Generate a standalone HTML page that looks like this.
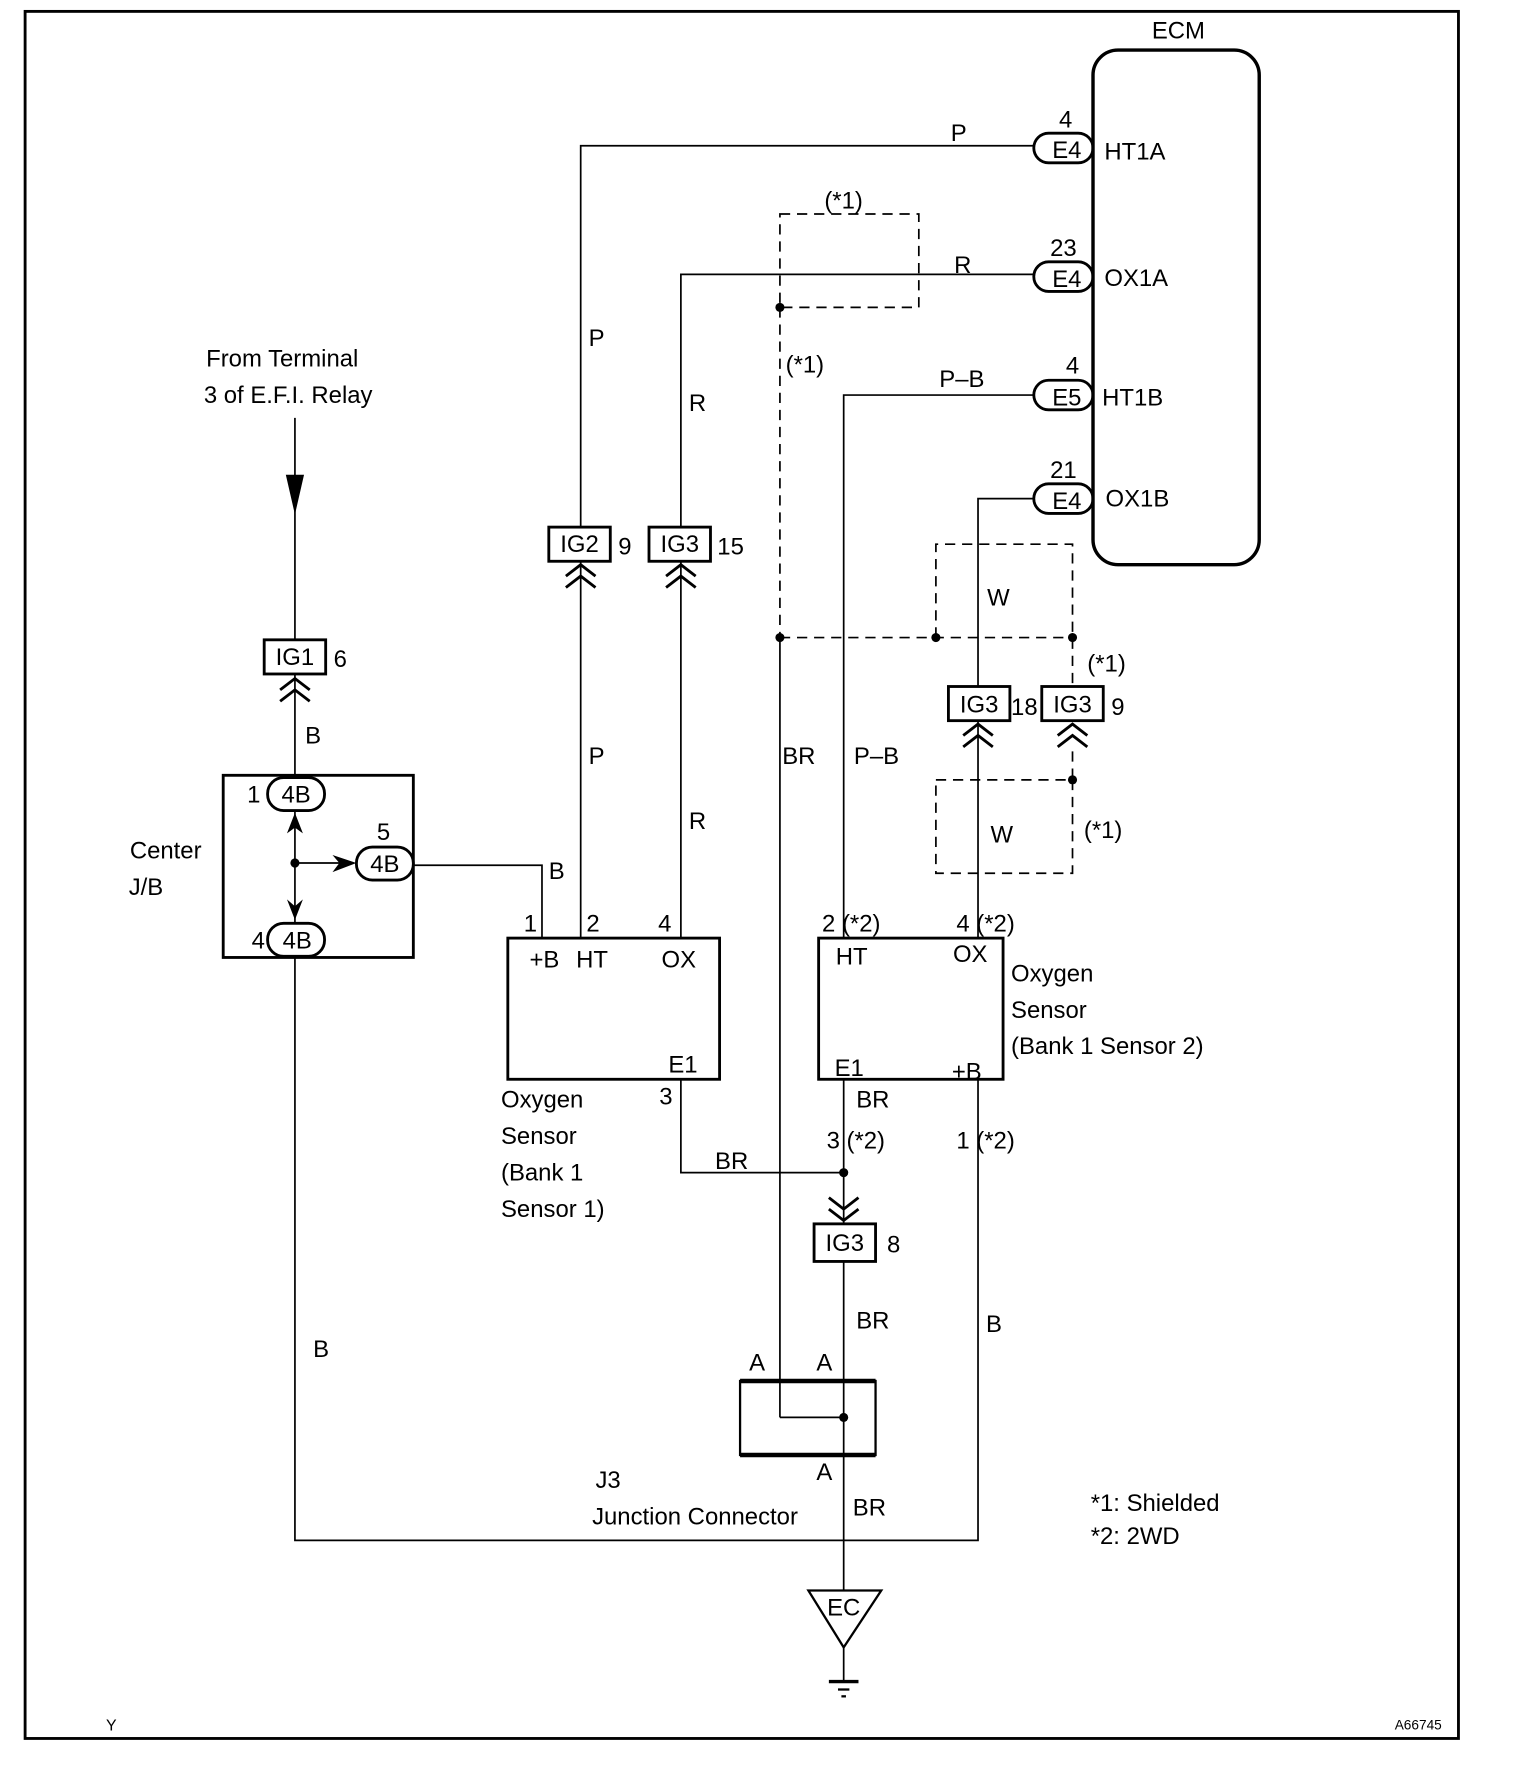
<!DOCTYPE html>
<html><head><meta charset="utf-8"><style>
html,body{margin:0;padding:0;background:#fff;width:1520px;height:1784px;overflow:hidden}
svg{display:block}
text{font-family:"Liberation Sans",Arial,sans-serif;font-size:21px;fill:#000}
</style></head><body>
<svg width="1520" height="1784" viewBox="0 0 1335 1567" xmlns="http://www.w3.org/2000/svg">
<defs>
<g id="chevU"><polyline points="-13,10 0,0 13,10" fill="none" stroke="#000" stroke-width="2.5"/><polyline points="-13,20 0,10 13,20" fill="none" stroke="#000" stroke-width="2.5"/></g>
</defs>
<g fill="none" stroke="#000">
<rect x="22" y="10" width="1259" height="1517" stroke-width="2.5"/>
<rect x="960" y="44" width="146" height="452" rx="22" stroke-width="3"/>
<rect x="908" y="117" width="52" height="26" rx="13" stroke-width="2.5"/>
<rect x="908" y="230" width="52" height="26" rx="13" stroke-width="2.5"/>
<rect x="908" y="334" width="52" height="26" rx="13" stroke-width="2.5"/>
<rect x="908" y="425" width="52" height="26" rx="13" stroke-width="2.5"/>
<g stroke-width="1.5">
<polyline points="908,128 510,128 510,463"/>
<line x1="510" y1="493" x2="510" y2="824"/>
<polyline points="908,241 598,241 598,463"/>
<line x1="598" y1="493" x2="598" y2="824"/>
<polyline points="908,347 741,347 741,824"/>
<polyline points="908,438 859,438 859,603"/>
<line x1="859" y1="633" x2="859" y2="824"/>
<line x1="685" y1="560" x2="685" y2="1245"/>
<line x1="685" y1="1245" x2="741" y2="1245"/>
<polyline points="741,948 741,1030"/>
<polyline points="598,948 598,1030 741,1030 741,1075"/>
<line x1="741" y1="1108" x2="741" y2="1397"/>
<line x1="741" y1="1447" x2="741" y2="1476"/>
<polyline points="859,948 859,1353 259,1353 259,841"/>
<line x1="259" y1="367" x2="259" y2="562"/>
<line x1="259" y1="592" x2="259" y2="681"/>
<line x1="259" y1="712" x2="259" y2="812"/>
<line x1="259" y1="758" x2="300" y2="758"/>
<polyline points="362,760 476,760 476,824"/>
</g>
<g stroke-width="1.5" stroke-dasharray="9,6">
<rect x="685" y="188" width="122" height="82"/>
<line x1="685" y1="270" x2="685" y2="560"/>
<line x1="685" y1="560" x2="942" y2="560"/>
<polyline points="822,560 822,478 942,478 942,603"/>
<line x1="942" y1="660" x2="942" y2="685"/>
<rect x="822" y="685" width="120" height="82"/>
</g>
<g stroke-width="2.5">
<rect x="482" y="463" width="54" height="30"/>
<rect x="570" y="463" width="54" height="30"/>
<rect x="232" y="562" width="54" height="30"/>
<rect x="833" y="603" width="54" height="30"/>
<rect x="915" y="603" width="54" height="30"/>
<rect x="715" y="1075" width="54" height="33"/>
<rect x="196" y="681" width="167" height="160"/>
<rect x="235" y="683" width="50" height="29" rx="14" fill="#fff"/>
<rect x="313" y="744" width="50" height="29" rx="14" fill="#fff"/>
<rect x="235" y="811" width="50" height="29" rx="14" fill="#fff"/>
<rect x="446" y="824" width="186" height="124"/>
<rect x="719" y="824" width="162" height="124"/>
<rect x="650" y="1213" width="119" height="65" stroke-width="2"/>
<line x1="650" y1="1213" x2="769" y2="1213" stroke-width="4"/>
<line x1="650" y1="1278" x2="769" y2="1278" stroke-width="4"/>
<polygon points="710,1397 774,1397 741,1447" stroke-width="2"/>
</g>
<line x1="728" y1="1477" x2="754" y2="1477" stroke-width="3"/>
<line x1="736" y1="1484" x2="746" y2="1484" stroke-width="2"/>
<line x1="739" y1="1490" x2="743" y2="1490" stroke-width="2"/>
</g>
<use href="#chevU" x="510" y="496"/>
<use href="#chevU" x="598" y="496"/>
<use href="#chevU" x="259" y="596"/>
<use href="#chevU" x="859" y="636"/>
<use href="#chevU" x="942" y="636"/>
<use href="#chevU" transform="translate(741,1072) scale(1,-1)"/>
<polygon points="251,417 267,417 259,452" fill="#000"/>
<polygon points="252,732 259,714 266,732 259,727" fill="#000"/>
<polygon points="252,790 259,796 266,790 259,808" fill="#000"/>
<polygon points="292,751 313,758 292,766 298,758" fill="#000"/>
<g fill="#000">
<circle cx="685" cy="270" r="4"/><circle cx="685" cy="560" r="4"/><circle cx="822" cy="560" r="4"/><circle cx="942" cy="560" r="4"/><circle cx="942" cy="685" r="4"/><circle cx="741" cy="1030" r="4"/><circle cx="741" cy="1245" r="4"/><circle cx="259" cy="758" r="4"/>
</g>
<text x="1035" y="34" text-anchor="middle">ECM</text>
<text x="937" y="139" text-anchor="middle">E4</text><text x="937" y="252" text-anchor="middle">E4</text><text x="937" y="356" text-anchor="middle">E5</text><text x="937" y="447" text-anchor="middle">E4</text>
<text x="936" y="112" text-anchor="middle">4</text><text x="934" y="225" text-anchor="middle">23</text><text x="942" y="328" text-anchor="middle">4</text><text x="934" y="420" text-anchor="middle">21</text>
<text x="970" y="140">HT1A</text><text x="970" y="251">OX1A</text><text x="968" y="356">HT1B</text><text x="971" y="445">OX1B</text>
<text x="835" y="124">P</text><text x="838" y="240">R</text><text x="825" y="340">P–B</text>
<text x="724" y="183">(*1)</text><text x="690" y="327">(*1)</text>
<text x="517" y="304">P</text><text x="605" y="361">R</text>
<text x="509" y="485" text-anchor="middle">IG2</text><text x="543" y="487">9</text>
<text x="597" y="485" text-anchor="middle">IG3</text><text x="630" y="487">15</text>
<text x="181" y="322">From Terminal</text><text x="179" y="354">3 of E.F.I. Relay</text>
<text x="259" y="584" text-anchor="middle">IG1</text><text x="293" y="586">6</text>
<text x="867" y="532">W</text><text x="955" y="590">(*1)</text>
<text x="860" y="626" text-anchor="middle">IG3</text><text x="888" y="628">18</text>
<text x="942" y="626" text-anchor="middle">IG3</text><text x="976" y="628">9</text>
<text x="268" y="653">B</text><text x="517" y="671">P</text><text x="687" y="671">BR</text><text x="750" y="671">P–B</text>
<text x="605" y="728">R</text><text x="870" y="740">W</text><text x="952" y="736">(*1)</text>
<text x="114" y="754">Center</text><text x="113" y="786">J/B</text>
<text x="217" y="705">1</text><text x="260" y="705" text-anchor="middle">4B</text>
<text x="331" y="738">5</text><text x="338" y="766" text-anchor="middle">4B</text>
<text x="221" y="833">4</text><text x="261" y="833" text-anchor="middle">4B</text>
<text x="482" y="772">B</text>
<text x="460" y="818">1</text><text x="515" y="818">2</text><text x="578" y="818">4</text>
<text x="465" y="850">+B</text><text x="506" y="850">HT</text><text x="581" y="850">OX</text><text x="587" y="942">E1</text>
<text x="722" y="818">2 (*2)</text><text x="840" y="818">4 (*2)</text>
<text x="734" y="847">HT</text><text x="837" y="845">OX</text><text x="733" y="945">E1</text><text x="836" y="948">+B</text>
<text x="888" y="862">Oxygen</text><text x="888" y="894">Sensor</text><text x="888" y="926">(Bank 1 Sensor 2)</text>
<text x="579" y="970">3</text>
<text x="440" y="973">Oxygen</text><text x="440" y="1005">Sensor</text><text x="440" y="1037">(Bank 1</text><text x="440" y="1069">Sensor 1)</text>
<text x="752" y="973">BR</text><text x="726" y="1009">3 (*2)</text><text x="840" y="1009">1 (*2)</text>
<text x="628" y="1027">BR</text>
<text x="742" y="1099" text-anchor="middle">IG3</text><text x="779" y="1100">8</text>
<text x="752" y="1167">BR</text><text x="866" y="1170">B</text><text x="275" y="1192">B</text>
<text x="658" y="1204">A</text><text x="717" y="1204">A</text><text x="717" y="1300">A</text>
<text x="523" y="1307">J3</text><text x="520" y="1339">Junction Connector</text><text x="749" y="1331">BR</text>
<text x="741" y="1419" text-anchor="middle">EC</text>
<text x="958" y="1327">*1: Shielded</text><text x="958" y="1356">*2: 2WD</text>
<text x="93" y="1520" style="font-size:14px">Y</text><text x="1225" y="1519" style="font-size:12px">A66745</text>
</svg>
</body></html>
